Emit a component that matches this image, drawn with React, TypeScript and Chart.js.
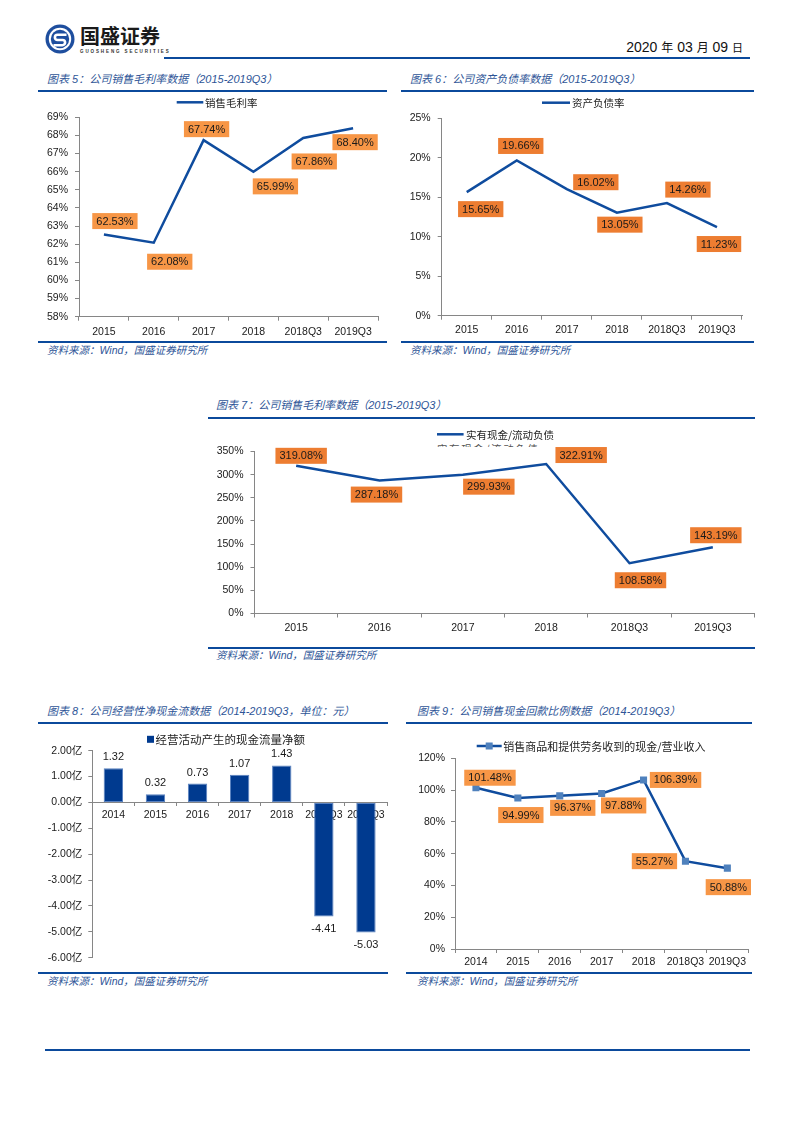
import React, { useEffect, useRef } from 'react';
import { Chart, registerables } from 'chart.js';

Chart.register(...registerables);

// ---------------- data ----------------
const periods6 = ['2015', '2016', '2017', '2018', '2018Q3', '2019Q3'];
const periods7 = ['2014', '2015', '2016', '2017', '2018', '2018Q3', '2019Q3'];

const grossMargin = [62.53, 62.08, 67.74, 65.99, 67.86, 68.4];
const debtRatio = [15.65, 19.66, 16.02, 13.05, 14.26, 11.23];
const cashToCurrentLiab = [319.08, 287.18, 299.93, 322.91, 108.58, 143.19];
const operatingCashFlow = [1.32, 0.32, 0.73, 1.07, 1.43, -4.41, -5.03];
const cashCollectionRatio = [101.48, 94.99, 96.37, 97.88, 106.39, 55.27, 50.88];

const grossMarginTicks = { min: 58, max: 69, step: 1 };
const debtRatioTicks = { min: 0, max: 25, step: 5 };
const cashRatioTicks = { min: 0, max: 350, step: 50 };
const cashFlowTicks = { min: -6, max: 2, step: 1 };
const collectionTicks = { min: 0, max: 120, step: 20 };

// label box offsets (style only: relative to each point)
const grossMarginLabelOffsets = [[11, -13.5], [16, 19], [3, -11], [22, 14.5], [11, 23.5], [2, 14]];
const debtRatioLabelOffsets = [[14, 17], [4, -14.5], [29, -7], [3, 12], [21, -13.5], [2, 17]];
const cashRatioLabelOffsets = [[5, -10], [-3, 14], [26, 12], [35, -9], [11, 17], [3, -12]];
const collectionLabelOffsets = [[14, -10], [3, 17], [13, 12], [22, 12], [32, 0], [-31, 0], [1, 19]];

// ---------------- styles ----------------
const LATIN = '"Liberation Sans", Arial, sans-serif';
const MIXED = '"Liberation Sans", "Noto Sans CJK SC", sans-serif';
const CJK = '"Noto Sans CJK SC", sans-serif';
const AXIS = '#868686';
const LINE_BLUE = '#0F4C9E';
const HEAD_BLUE = '#0B4A9C';
const TITLE_BLUE = '#2E5597';
const ORANGE_LIGHT = '#F79646';
const ORANGE = '#ED7D31';
const TEXT = '#1a1a1a';

type LegendCfg = { x1: number; x2: number; y: number; textX: number; size: number; kind: 'line' | 'rect' | 'lineRect' };

function legendPlugin(cfg: LegendCfg) {
  return {
    id: 'fixedLegend',
    afterDraw(chart: any) {
      const ctx = chart.ctx as CanvasRenderingContext2D;
      const ds = chart.data.datasets[0];
      ctx.save();
      if (cfg.kind === 'rect') {
        ctx.fillStyle = ds.backgroundColor;
        ctx.fillRect(cfg.x1, cfg.y - 3.5, cfg.x2 - cfg.x1, 7);
      } else {
        ctx.strokeStyle = ds.borderColor;
        ctx.lineWidth = 2.5;
        ctx.beginPath();
        ctx.moveTo(cfg.x1, cfg.y);
        ctx.lineTo(cfg.x2, cfg.y);
        ctx.stroke();
        if (cfg.kind === 'lineRect') {
          const cx = (cfg.x1 + cfg.x2) / 2;
          ctx.fillStyle = ds.pointBackgroundColor;
          ctx.fillRect(cx - 3.5, cfg.y - 3.5, 7, 7);
        }
      }
      ctx.font = `${cfg.size}px ${CJK}`;
      ctx.fillStyle = '#222';
      ctx.textAlign = 'left';
      ctx.textBaseline = 'middle';
      ctx.fillText(ds.label, cfg.textX, cfg.y + 0.5);
      ctx.restore();
    },
  };
}

type BoxLabelCfg = { offsets: number[][]; fill: string; size: number };

function boxLabelPlugin(cfg: BoxLabelCfg) {
  return {
    id: 'boxLabels',
    afterDatasetsDraw(chart: any) {
      const ctx = chart.ctx as CanvasRenderingContext2D;
      const meta = chart.getDatasetMeta(0);
      const values = chart.data.datasets[0].data as number[];
      ctx.save();
      ctx.font = `${cfg.size}px ${LATIN}`;
      ctx.textAlign = 'center';
      ctx.textBaseline = 'middle';
      meta.data.forEach((el: any, i: number) => {
        const text = values[i].toFixed(2) + '%';
        const w = ctx.measureText(text).width + 8;
        const h = 16;
        const cx = el.x + cfg.offsets[i][0];
        const cy = el.y + cfg.offsets[i][1];
        ctx.fillStyle = cfg.fill;
        ctx.fillRect(cx - w / 2, cy - h / 2, w, h);
        ctx.fillStyle = TEXT;
        ctx.fillText(text, cx, cy + 0.5);
      });
      ctx.restore();
    },
  };
}

function barValuePlugin() {
  return {
    id: 'barValues',
    afterDatasetsDraw(chart: any) {
      const ctx = chart.ctx as CanvasRenderingContext2D;
      const meta = chart.getDatasetMeta(0);
      const values = chart.data.datasets[0].data as number[];
      ctx.save();
      ctx.font = `11px ${LATIN}`;
      ctx.textAlign = 'center';
      ctx.textBaseline = 'middle';
      ctx.fillStyle = TEXT;
      meta.data.forEach((el: any, i: number) => {
        const v = values[i];
        const y = v >= 0 ? el.y - 11 : el.y + 12.5;
        ctx.fillText(v.toFixed(2), el.x, y);
      });
      ctx.restore();
    },
  };
}

type Geo = { yWidth: number; xHeight: number; top: number; right: number; bottom: number; xPad: number; yPad: number };

function axisScales(
  ticks: { min: number; max: number; step: number },
  fmt: (v: number) => string,
  geo: Geo,
  zeroAxis = false
) {
  const x: any = {
    type: 'category',
    offset: true,
    grid: { display: true, offset: true, drawOnChartArea: false, drawTicks: true, tickLength: 4, color: AXIS },
    border: { display: true, color: AXIS, width: 1 },
    ticks: { font: { family: LATIN, size: 10.5 }, color: TEXT, padding: geo.xPad, maxRotation: 0, autoSkip: false },
  };
  if (zeroAxis) {
    x.position = { y: 0 };
    x.z = 1;
    x.grid.tickLength = 3;
  } else {
    x.afterFit = (s: any) => {
      s.height = geo.xHeight;
    };
  }
  const y: any = {
    min: ticks.min,
    max: ticks.max,
    ticks: {
      stepSize: ticks.step,
      callback: (v: any) => fmt(Number(v)),
      font: { family: MIXED, size: 10.5 },
      color: TEXT,
      padding: geo.yPad,
    },
    grid: { display: true, drawOnChartArea: false, drawTicks: true, tickLength: 4, color: AXIS },
    border: { display: true, color: AXIS, width: 1 },
    afterFit: (s: any) => {
      s.width = geo.yWidth;
    },
  };
  return { x, y };
}

function baseOptions(geo: Geo, scales: any) {
  return {
    responsive: false,
    maintainAspectRatio: false,
    animation: false,
    events: [],
    layout: { padding: { left: 0, top: geo.top, right: geo.right, bottom: geo.bottom } },
    plugins: { legend: { display: false }, tooltip: { enabled: false }, title: { display: false } },
    scales,
  };
}

function lineChartConfig(
  labels: string[],
  values: number[],
  name: string,
  ticks: { min: number; max: number; step: number },
  geo: Geo,
  legend: LegendCfg,
  boxes: BoxLabelCfg,
  markers = false
) {
  return {
    type: 'line',
    data: {
      labels,
      datasets: [
        {
          label: name,
          data: values,
          borderColor: LINE_BLUE,
          backgroundColor: LINE_BLUE,
          borderWidth: 2.5,
          tension: 0,
          fill: false,
          pointRadius: markers ? 5 : 0,
          pointStyle: 'rect',
          pointBackgroundColor: '#4F81BD',
          pointBorderColor: '#4F81BD',
          pointBorderWidth: 0,
        },
      ],
    },
    options: baseOptions(geo, axisScales(ticks, (v) => v + '%', geo)),
    plugins: [legendPlugin(legend), boxLabelPlugin(boxes)],
  };
}

function cashFlowConfig() {
  const geo: Geo = { yWidth: 54.3, xHeight: 0, top: 20.7, right: 3, bottom: 9.3, xPad: 3, yPad: 6 };
  return {
    type: 'bar',
    data: {
      labels: periods7,
      datasets: [
        {
          label: '经营活动产生的现金流量净额',
          data: operatingCashFlow,
          backgroundColor: '#003A8F',
          borderColor: '#5A82C0',
          borderWidth: 1,
          borderSkipped: false,
          barPercentage: 0.46,
          categoryPercentage: 1,
        },
      ],
    },
    options: baseOptions(geo, axisScales(cashFlowTicks, (v) => v.toFixed(2) + '亿', geo, true)),
    plugins: [
      legendPlugin({ x1: 109, x2: 116, y: 9.3, textX: 117.5, size: 11.5, kind: 'rect' }),
      barValuePlugin(),
    ],
  };
}

const chartDefs = [
  {
    box: { x: 38, y: 95, w: 350, h: 245 },
    make: () =>
      lineChartConfig(
        periods6,
        grossMargin,
        '销售毛利率',
        grossMarginTicks,
        { yWidth: 41, xHeight: 23.3, top: 22.3, right: 10, bottom: 0, xPad: 5, yPad: 7 },
        { x1: 138.7, x2: 165.3, y: 7.3, textX: 167, size: 10.5, kind: 'line' },
        { offsets: grossMarginLabelOffsets, fill: ORANGE_LIGHT, size: 11 }
      ),
  },
  {
    box: { x: 400, y: 95, w: 355, h: 245 },
    make: () =>
      lineChartConfig(
        periods6,
        debtRatio,
        '资产负债率',
        debtRatioTicks,
        { yWidth: 41.7, xHeight: 24.3, top: 23.3, right: 13, bottom: 0, xPad: 4, yPad: 7 },
        { x1: 142, x2: 170, y: 7.7, textX: 172, size: 10.5, kind: 'line' },
        { offsets: debtRatioLabelOffsets, fill: ORANGE, size: 11 }
      ),
  },
  {
    box: { x: 207, y: 425, w: 555, h: 215 },
    make: () =>
      lineChartConfig(
        periods6,
        cashToCurrentLiab,
        '实有现金/流动负债',
        cashRatioTicks,
        { yWidth: 47.5, xHeight: 26.5, top: 26.5, right: 7.5, bottom: 0, xPad: 4, yPad: 7 },
        { x1: 230, x2: 256.6, y: 9.3, textX: 259, size: 10.5, kind: 'line' },
        { offsets: cashRatioLabelOffsets, fill: ORANGE, size: 11 }
      ),
  },
  {
    box: { x: 38, y: 730, w: 352, h: 240 },
    make: cashFlowConfig,
  },
  {
    box: { x: 405, y: 735, w: 350, h: 235 },
    make: () =>
      lineChartConfig(
        periods7,
        cashCollectionRatio,
        '销售商品和提供劳务收到的现金/营业收入',
        collectionTicks,
        { yWidth: 50, xHeight: 21, top: 23.3, right: 6.7, bottom: 0, xPad: 3, yPad: 6 },
        { x1: 71.7, x2: 96.7, y: 11, textX: 98.3, size: 11, kind: 'lineRect' },
        { offsets: collectionLabelOffsets, fill: ORANGE_LIGHT, size: 11 },
        true
      ),
  },
];

function ChartCanvas({ box, make }: { box: { x: number; y: number; w: number; h: number }; make: () => any }) {
  const ref = useRef<HTMLCanvasElement>(null);
  useEffect(() => {
    const chart = new Chart(ref.current as HTMLCanvasElement, make());
    return () => chart.destroy();
  }, []);
  return (
    <canvas
      ref={ref}
      width={box.w}
      height={box.h}
      style={{ position: 'absolute', left: box.x, top: box.y, width: box.w, height: box.h }}
    />
  );
}

type PanelProps = {
  title: string;
  x1: number;
  x2: number;
  titleX: number;
  titleY: number;
  topLineY: number;
  bottomLineY: number;
  sourceX: number;
  sourceY: number;
};

function Panel(p: PanelProps) {
  const textStyle: React.CSSProperties = {
    position: 'absolute',
    fontFamily: MIXED,
    fontStyle: 'italic',
    color: TITLE_BLUE,
    whiteSpace: 'nowrap',
  };
  return (
    <>
      <div style={{ ...textStyle, left: p.titleX, top: p.titleY - 6, fontSize: 11, lineHeight: '12px' }}>{p.title}</div>
      <div style={{ position: 'absolute', left: p.x1, top: p.topLineY - 1, width: p.x2 - p.x1, height: 2, background: HEAD_BLUE }} />
      <div style={{ position: 'absolute', left: p.x1, top: p.bottomLineY - 1, width: p.x2 - p.x1, height: 2, background: HEAD_BLUE }} />
      <div style={{ ...textStyle, left: p.sourceX, top: p.sourceY - 6, fontSize: 10.5, lineHeight: '12px' }}>
        资料来源：Wind，国盛证券研究所
      </div>
    </>
  );
}

function Logo() {
  return (
    <svg style={{ position: 'absolute', left: 45, top: 24 }} width={30} height={30} viewBox="-15 -15 30 30">
      <circle cx={0} cy={0} r={14.5} fill="#1E4E9E" />
      <circle cx={0} cy={0} r={11.2} fill="#ffffff" />
      <circle cx={0} cy={0} r={9.2} fill="#1E4E9E" />
      <path
        d="M6.5,-4.2 H-2.5 A2.6,2.6 0 0,0 -2.5,1 H2.5 A2.6,2.6 0 0,1 2.5,6.2 H-6.5"
        fill="none"
        stroke="#ffffff"
        strokeWidth={2.6}
      />
    </svg>
  );
}

export default function App() {
  return (
    <div style={{ position: 'absolute', left: 0, top: 0, width: 793, height: 1122, background: '#fff', overflow: 'hidden' }}>
      <Logo />
      <div
        style={{
          position: 'absolute',
          left: 80,
          top: 25,
          fontFamily: CJK,
          fontWeight: 700,
          fontSize: 20,
          lineHeight: '22px',
          color: '#1a1a1a',
          letterSpacing: 0,
          whiteSpace: 'nowrap',
        }}
      >
        国盛证券
      </div>
      <div
        style={{
          position: 'absolute',
          left: 80,
          top: 48.5,
          fontFamily: LATIN,
          fontWeight: 700,
          fontSize: 4.5,
          lineHeight: '5px',
          letterSpacing: '1.9px',
          color: '#333',
          whiteSpace: 'nowrap',
        }}
      >
        GUOSHENG SECURITIES
      </div>
      <div style={{ position: 'absolute', left: 164, top: 56.5, width: 586, height: 2, background: HEAD_BLUE }} />
      <div
        style={{
          position: 'absolute',
          left: 543,
          top: 38.5,
          width: 200,
          textAlign: 'right',
          fontFamily: MIXED,
          fontSize: 14,
          lineHeight: '16px',
          color: '#111',
          whiteSpace: 'nowrap',
        }}
      >
        2020 <span style={{ fontSize: 12 }}>年</span> 03 <span style={{ fontSize: 12 }}>月</span> 09{' '}
        <span style={{ fontSize: 11 }}>日</span>
      </div>

      <Panel title="图表 5：公司销售毛利率数据（2015-2019Q3）" x1={38} x2={387} titleX={47} titleY={79} topLineY={90.5} bottomLineY={342} sourceX={47} sourceY={349.5} />
      <Panel title="图表 6：公司资产负债率数据（2015-2019Q3）" x1={401} x2={754} titleX={410} titleY={79} topLineY={90.5} bottomLineY={342} sourceX={410} sourceY={349.5} />
      <Panel title="图表 7：公司销售毛利率数据（2015-2019Q3）" x1={208} x2={755} titleX={216} titleY={405} topLineY={417.5} bottomLineY={647.5} sourceX={216} sourceY={654.5} />
      <Panel title="图表 8：公司经营性净现金流数据（2014-2019Q3，单位：元）" x1={38} x2={388} titleX={47} titleY={710.5} topLineY={723.3} bottomLineY={973} sourceX={47} sourceY={981} />
      <Panel title="图表 9：公司销售现金回款比例数据（2014-2019Q3）" x1={406} x2={752} titleX={417} titleY={710.5} topLineY={723.3} bottomLineY={973} sourceX={417} sourceY={981} />

      <div style={{ position: 'absolute', left: 437, top: 444, width: 105, height: 3, overflow: 'hidden' }}>
        <div style={{ fontFamily: CJK, fontSize: 10.5, lineHeight: '10.5px', letterSpacing: '1.6px', color: '#555', whiteSpace: 'nowrap' }}>
          实有现金/流动负债
        </div>
      </div>

      {chartDefs.map((d, i) => (
        <ChartCanvas key={i} box={d.box} make={d.make} />
      ))}

      <div style={{ position: 'absolute', left: 45, top: 1049, width: 705, height: 2, background: HEAD_BLUE }} />
    </div>
  );
}
